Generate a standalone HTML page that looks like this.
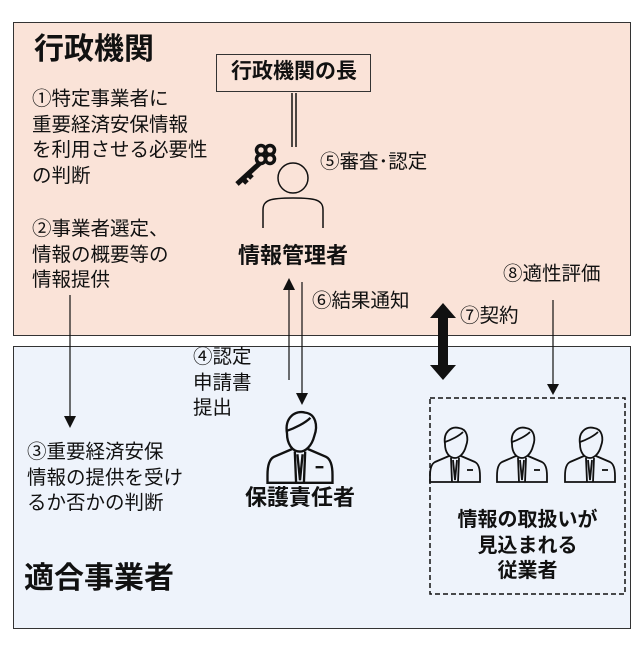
<!DOCTYPE html>
<html><head><meta charset="utf-8"><style>
body{margin:0;width:643px;height:649px;background:#fff;position:relative;overflow:hidden;font-family:"Liberation Sans","Noto Sans CJK JP",sans-serif;color:#111}
.t{position:absolute;font-size:19.5px;line-height:25.5px;white-space:nowrap}
.b{font-weight:bold}
</style></head><body>
<div style="position:absolute;left:13px;top:22px;width:616px;height:312px;background:#fae3d8;border:1.5px solid #333"></div>
<div style="position:absolute;left:13px;top:346px;width:616px;height:281px;background:#eef3fb;border:1.5px solid #333"></div>
<div class="t b" style="left:34px;top:32px;font-size:30px;line-height:36px">行政機関</div>
<div class="t" style="left:32px;top:87px">①特定事業者に<br>重要経済安保情報<br>を利用させる必要性<br>の判断</div>
<div class="t" style="left:32px;top:217px">②事業者選定、<br>情報の概要等の<br>情報提供</div>
<div style="position:absolute;left:216px;top:54px;width:153px;height:36px;border:1.5px solid #333;background:#fae3d8"></div>
<div class="t b" style="left:216px;top:57px;width:156px;text-align:center;font-size:21px;line-height:30px">行政機関の長</div>
<div class="t" style="left:320px;top:150px">⑤審査･認定</div>
<div class="t b" style="left:223px;top:241px;width:140px;text-align:center;font-size:22px;line-height:30px">情報管理者</div>
<div class="t" style="left:312px;top:289px">⑥結果通知</div>
<div class="t" style="left:460px;top:304px">⑦契約</div>
<div class="t" style="left:503px;top:262px">⑧適性評価</div>
<div class="t" style="left:193px;top:345px">④認定<br>申請書<br>提出</div>
<div class="t" style="left:27px;top:440px">③重要経済安保<br>情報の提供を受け<br>るか否かの判断</div>
<div class="t b" style="left:230px;top:483px;width:140px;text-align:center;font-size:22px;line-height:30px">保護責任者</div>
<div class="t b" style="left:430px;top:508px;width:195px;text-align:center;font-size:20px;line-height:25.5px">情報の取扱いが<br>見込まれる<br>従業者</div>
<div class="t b" style="left:24px;top:561px;font-size:30px;line-height:36px">適合事業者</div>
<svg width="643" height="649" style="position:absolute;left:0;top:0">
<defs>
<g id="p" fill="none" stroke="#111" stroke-width="1.8">
<path d="M-10,-22 C-12,-34 -4,-40 4,-38 C12,-37 14,-28 11,-20 C9,-12 4,-8 0,-8 C-6,-8 -10,-14 -10,-22 Z"/>
<path d="M-10,-24 C-4,-26 4,-30 8,-34"/>
<path d="M-6,-10 L-20,-4 C-24,-2 -25,4 -25,10 L-25,16 L25,16 L25,10 C25,4 24,-2 20,-4 L6,-10"/>
<path d="M-4,-8 L-3,16 M4,-8 L3,16 M-2,-6 L0,14 L2,-6"/>
<path d="M12,4 L18,4"/>
</g>
</defs>
<line x1="292" y1="93" x2="292" y2="147" stroke="#111" stroke-width="1.5"/>
<line x1="296" y1="93" x2="296" y2="147" stroke="#111" stroke-width="1.5"/>
<circle cx="293" cy="178" r="15" fill="none" stroke="#111" stroke-width="1.5"/>
<path d="M263,228 L263,210 C263,200 270,198 293,198 C316,198 323,200 323,210 L323,228" fill="none" stroke="#111" stroke-width="1.5"/>
<g fill="none" stroke="#111" stroke-width="3.5"><circle cx="261" cy="150" r="4.5"/><circle cx="270" cy="150" r="4.5"/><circle cx="261" cy="159" r="4.5"/><circle cx="270" cy="159" r="4.5"/></g>
<path d="M260,163 L237,184 M243,179 L247,183 M248,174 L252,178" stroke="#111" stroke-width="5" fill="none"/>
<line x1="70" y1="295" x2="70" y2="418" stroke="#111" stroke-width="1.2"/><path d="M64,416 L76,416 L70,428Z" fill="#111"/>
<line x1="289" y1="288" x2="289" y2="380" stroke="#111" stroke-width="1.2"/><path d="M283,290 L295,290 L289,278Z" fill="#111"/>
<line x1="302" y1="282" x2="302" y2="394" stroke="#111" stroke-width="1.2"/><path d="M296,393 L308,393 L302,405Z" fill="#111"/>
<line x1="553" y1="300" x2="553" y2="385" stroke="#111" stroke-width="1.2"/><path d="M547,384 L559,384 L553,395Z" fill="#111"/>
<path d="M443,303 L456,318 L448,318 L448,365 L456,365 L443,380 L430,365 L438,365 L438,318 L430,318Z" fill="#111"/>
<rect x="430" y="398" width="195" height="196" fill="none" stroke="#111" stroke-width="1.5" stroke-dasharray="5,3"/>
<use href="#p" transform="translate(300,462) scale(1.3)"/>
<use href="#p" transform="translate(455,466)"/>
<use href="#p" transform="translate(522,466)"/>
<use href="#p" transform="translate(590,466)"/>
</svg>
</body></html>
